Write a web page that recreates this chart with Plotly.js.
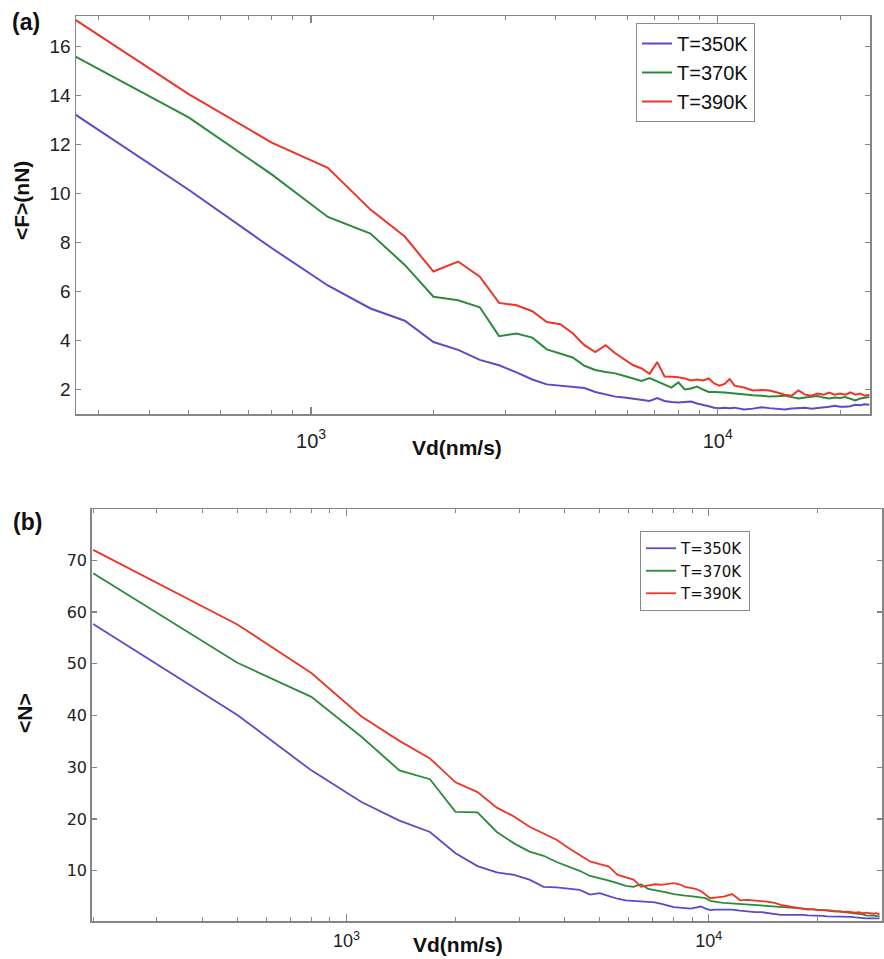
<!DOCTYPE html>
<html>
<head>
<meta charset="utf-8">
<script src="https://cdn.plot.ly/plotly-3.0.1.min.js"></script>
<style>html,body{margin:0;padding:0;background:#fff;}#chart{width:884px;height:959px;}</style>
</head>
<body>
<div id="chart"></div>
<script>
// Drive velocity Vd (nm/s)
const vd = [200,500,800,1100,1400,1700,2000,2300,2600,2900,3200,3500,3800,4100,4400,4700,5000,5300,5600,5900,6200,6500,6800,7100,7400,7700,8000,8300,8600,8900,9200,9500,9800,10100,10400,10700,11000,
  11600,12200,12800,13400,14000,14600,15200,15800,16400,17000,17600,18200,18800,19400,20000,20600,21200,21800,22400,23000,23600,
  24200,24800,25400,26000,26600,27200,27800,28400,29000,29600];

const seriesNames = ["T=350K","T=370K","T=390K"];

// (a) mean friction force <F> (nN)
const forceT350 = [14.55,10.16,7.78,6.25,5.31,4.81,3.94,3.62,3.21,2.99,2.70,2.41,2.21,2.16,2.12,2.06,1.90,1.79,1.71,1.67,1.63,1.59,1.53,1.65,1.53,1.49,1.47,1.49,1.51,1.43,1.36,1.32,1.26,1.24,1.26,1.24,1.26,
  1.18,1.22,1.28,1.24,1.22,1.18,1.22,1.24,1.26,1.22,1.24,1.26,1.30,1.34,1.30,1.30,1.32,1.38,1.36,1.40,1.38];
const forceT370 = [16.67,13.12,10.79,9.05,8.37,7.09,5.79,5.65,5.36,4.18,4.29,4.12,3.64,3.47,3.31,2.97,2.80,2.72,2.66,2.55,2.45,2.35,2.47,2.33,2.21,2.08,2.29,2.00,2.04,2.12,2.00,1.90,1.90,1.90,1.88,1.86,1.84,
  1.79,1.77,1.75,1.71,1.73,1.75,1.69,1.63,1.67,1.71,1.73,1.67,1.63,1.67,1.65,1.69,1.63,1.55,1.63,1.67,1.69];
const forceT390 = [18.4,14.07,12.09,11.06,9.35,8.25,6.82,7.23,6.61,5.54,5.44,5.20,4.76,4.67,4.30,3.81,3.53,3.81,3.48,3.23,2.99,2.86,2.64,3.12,2.53,2.52,2.50,2.45,2.37,2.41,2.37,2.45,2.25,2.16,2.23,2.43,2.16,
  2.08,1.96,1.98,1.96,1.88,1.79,1.75,1.96,1.79,1.75,1.84,1.79,1.88,1.79,1.84,1.79,1.88,1.79,1.84,1.75,1.79];

// (b) mean number <N>
const numT350 = [57.7,40.1,29.4,23.3,19.7,17.5,13.4,10.9,9.7,9.2,8.3,6.9,6.8,6.6,6.3,5.4,5.7,5.1,4.6,4.3,4.2,4.1,4.0,3.9,3.6,3.3,3.0,2.9,2.8,2.7,2.9,3.1,2.7,2.4,2.5,2.5,2.5,
  2.5,2.3,2.1,2.0,2.0,1.8,1.7,1.5,1.5,1.5,1.6,1.5,1.4,1.4,1.3,1.3,1.2,1.2,1.1,1.1,1.1,
  1.1,1.1,1.0,0.9,0.9,0.8,0.8,0.8,0.8,0.8];
const numT370 = [67.5,50.2,43.6,35.9,29.4,27.7,21.4,21.3,17.5,15.3,13.7,12.9,11.7,10.9,10.0,9.0,8.6,8.1,7.6,7.1,6.9,7.4,6.5,6.3,6.1,5.8,5.5,5.3,5.2,5.1,5.0,4.8,4.7,4.2,4.0,3.9,3.8,
  3.7,3.6,3.5,3.4,3.3,3.2,3.1,3.1,3.0,2.9,2.8,2.7,2.6,2.5,2.5,2.4,2.4,2.3,2.2,2.1,2.0,
  2.0,1.9,1.8,1.7,1.6,1.4,1.4,1.4,1.3,1.2];
const numT390 = [72.0,57.6,48.2,39.8,35.1,31.7,27.1,25.2,22.2,20.5,18.5,17.2,16.0,14.4,13.1,11.8,11.3,10.8,9.2,8.8,8.3,6.9,7.1,7.4,7.3,7.5,7.6,7.4,6.9,6.7,6.5,6.1,5.3,4.7,4.8,4.9,5.0,
  5.5,4.3,4.4,4.3,4.2,4.0,3.8,3.4,3.2,3.0,2.8,2.7,2.5,2.6,2.4,2.4,2.3,2.2,2.1,2.2,2.0,
  2.1,2.0,1.9,2.0,1.8,1.9,1.8,1.7,1.8,1.6];

const xTickVals = [1000,10000];
const xTickText = ["10<sup>3</sup>","10<sup>4</sup>"];
const xMinorVals = [200,300,400,500,600,700,800,900,2000,3000,4000,5000,6000,7000,8000,9000,20000,30000];

const colors = ["#5a4cc8","#2c8a3c","#ee3526"];
const W = 884, H = 959;

const topSeries = [forceT350, forceT370, forceT390];
const botSeries = [numT350, numT370, numT390];
const traces = [];
topSeries.forEach((ys,i)=>{
  traces.push({x: vd.slice(0, ys.length), y: ys, type:'scatter', mode:'lines', name: seriesNames[i],
    line:{color:colors[i], width:2}, xaxis:'x', yaxis:'y', legend:'legend'});
});
botSeries.forEach((ys,i)=>{
  traces.push({x: vd.slice(0, ys.length), y: ys, type:'scatter', mode:'lines', name: seriesNames[i],
    line:{color:colors[i], width:1.8}, xaxis:'x2', yaxis:'y2', legend:'legend2'});
});

const axCol = '#858585';
function xAx(domain, range, fsize, standoff){
  return {domain: domain, type:'log', range: range, showgrid:false, zeroline:false,
    showline:true, linecolor:axCol, linewidth:1.5, mirror:'ticks',
    ticks:'inside', ticklen:7, tickwidth:1.2, tickcolor:axCol,
    tickmode:'array', tickvals:xTickVals, ticktext:xTickText, ticklabelstandoff: standoff,
    tickfont:{family:'Liberation Sans, Arial, sans-serif', size:fsize, color:'#222'},
    minor:{ticks:'inside', ticklen:4, tickwidth:1, tickcolor:axCol, tickmode:'array', tickvals:xMinorVals}};
}
function yAx(domain, range, dtick, font){
  return {domain: domain, range: range, showgrid:false, zeroline:false,
    showline:true, linecolor:axCol, linewidth:1.5, mirror:'ticks',
    ticks:'inside', ticklen:5, tickwidth:1.2, tickcolor:axCol, dtick: dtick, tick0: 0,
    tickfont: font};
}
function ann(text, px, py, size, angle){
  return {text:text, xref:'paper', yref:'paper', x:px/W, y:1-py/H, xanchor:'center', yanchor:'middle',
    textangle: angle || 0, showarrow:false,
    font:{family:'Liberation Sans, Arial, sans-serif', size:size, color:'#111'}};
}

const layout = {
  width: W, height: H, margin:{l:0,r:0,t:0,b:0}, paper_bgcolor:'#fff', plot_bgcolor:'#fff',
  showlegend:true,
  xaxis: Object.assign(xAx([76/W, 870/W], [2.422, 4.3745], 20, 8), {anchor:'y'}),
  yaxis: Object.assign(yAx([(H-414)/H, (H-16)/H], [1, 17.26], 2,
           {family:'Liberation Sans, Arial, sans-serif', size:19, color:'#222'}), {anchor:'x'}),
  xaxis2: Object.assign(xAx([91.7/W, 882/W], [2.297, 4.478], 18, 3), {anchor:'y2'}),
  yaxis2: Object.assign(yAx([(H-921)/H, (H-509)/H], [0.3, 79.9], 10,
           {family:'DejaVu Sans, sans-serif', size:16, color:'#222'}), {anchor:'x2'}),
  legend: {x:636/W, y:1-23/H, xanchor:'left', yanchor:'top', bgcolor:'#fff',
    bordercolor:'#8a8a8a', borderwidth:1, font:{family:'Liberation Sans, Arial, sans-serif', size:20, color:'#111'},
    tracegroupgap:0, itemwidth:30},
  legend2: {x:640/W, y:1-531/H, xanchor:'left', yanchor:'top', bgcolor:'#fff',
    bordercolor:'#8a8a8a', borderwidth:1, font:{family:'DejaVu Sans, sans-serif', size:15, color:'#111'},
    tracegroupgap:0, itemwidth:30},
  annotations: [
    ann('<b>(a)</b>', 26, 22, 23),
    ann('<b>(b)</b>', 27, 522, 23),
    ann('<b>&lt;F&gt;(nN)</b>', 22, 201, 21, -90),
    ann('<b>Vd(nm/s)</b>', 457, 447, 21),
    ann('<b>&lt;N&gt;</b>', 24, 713, 21, -90),
    ann('<b>Vd(nm/s)</b>', 458, 944, 21)
  ]
};

Plotly.newPlot('chart', traces, layout, {displayModeBar:false, staticPlot:true});
</script>
</body>
</html>
